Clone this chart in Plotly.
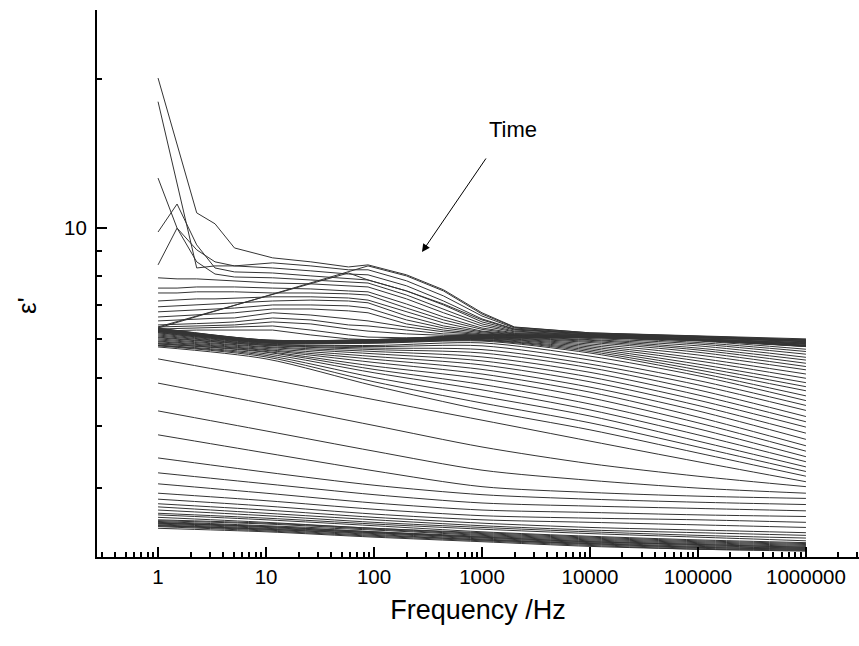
import math
import plotly.graph_objects as go

# ---------------------------------------------------------------------------
# Real permittivity eps' against frequency, one spectrum per measurement time
# ---------------------------------------------------------------------------

# Early spectra: electrode polarisation at low frequency plus a shoulder
FREQ_EARLY = [1, 1.5, 2.28, 3.37, 5.1, 11.5, 26, 58, 88, 200, 440, 1000, 2000,
              10000, 100000, 1000000]
EARLY_CURVES = [
    [20.06, 14.71, 10.74, 10.21, 9.13, 8.72, 8.56, 8.36, 8.44, 8.06, 7.52, 6.76, 6.33, 6.16, 6.07, 5.99],
    [17.98, 12.22, 8.32, 8.40, 8.40, 8.52, 8.40, 8.25, 8.25, 7.84, 7.31, 6.66, 6.30, 6.14, 6.06, 5.96],
    [12.62, 10.01, 9.05, 8.56, 8.40, 8.32, 8.21, 8.09, 8.06, 7.66, 7.14, 6.57, 6.27, 6.13, 6.04, 5.95],
    [9.83, 11.19, 9.26, 8.32, 8.17, 8.13, 8.02, 7.91, 7.87, 7.48, 7.01, 6.48, 6.24, 6.13, 6.03, 5.93],
    [8.44, 10.01, 8.56, 8.09, 7.98, 7.95, 7.87, 7.80, 7.76, 7.34, 6.88, 6.42, 6.21, 6.11, 6.02, 5.92],
    [7.95, 7.91, 7.91, 7.87, 7.84, 7.76, 7.73, 7.66, 7.62, 7.21, 6.76, 6.36, 6.19, 6.10, 6.02, 5.91],
    [7.58, 7.58, 7.62, 7.62, 7.62, 7.58, 7.55, 7.48, 7.45, 7.04, 6.63, 6.30, 6.16, 6.10, 6.00, 5.89],
    [7.41, 7.41, 7.45, 7.45, 7.45, 7.41, 7.41, 7.38, 7.34, 6.91, 6.54, 6.26, 6.14, 6.09, 5.99, 5.88],
    [7.14, 7.17, 7.21, 7.21, 7.24, 7.28, 7.28, 7.24, 7.17, 6.79, 6.45, 6.21, 6.13, 6.07, 5.99, 5.86],
    [6.95, 6.98, 7.01, 7.04, 7.08, 7.14, 7.17, 7.14, 7.08, 6.66, 6.36, 6.19, 6.11, 6.07, 5.97, 5.85],
    [6.79, 6.82, 6.85, 6.88, 6.91, 7.01, 7.01, 6.98, 6.91, 6.54, 6.30, 6.16, 6.10, 6.06, 5.97, 5.84],
    [6.63, 6.66, 6.69, 6.72, 6.76, 6.88, 6.88, 6.82, 6.76, 6.42, 6.24, 6.13, 6.09, 6.06, 5.96, 5.82],
    [6.51, 6.54, 6.57, 6.59, 6.60, 6.76, 6.69, 6.57, 6.51, 6.33, 6.19, 6.11, 6.09, 6.04, 5.96, 5.81],
    [6.39, 6.42, 6.43, 6.45, 6.48, 6.60, 6.54, 6.39, 6.36, 6.24, 6.13, 6.10, 6.07, 6.04, 5.95, 5.80],
    [6.33, 6.35, 6.36, 6.37, 6.39, 6.48, 6.42, 6.27, 6.21, 6.13, 6.09, 6.07, 6.07, 6.04, 5.95, 5.80],
    [6.27, 6.29, 6.30, 6.32, 6.33, 6.36, 6.24, 6.10, 6.04, 6.02, 6.02, 6.03, 6.04, 6.03, 5.95, 5.79],
    [6.21, 6.23, 6.24, 6.24, 6.24, 6.24, 6.10, 5.99, 5.97, 5.97, 5.99, 6.02, 6.03, 6.03, 5.95, 5.78],
]

# Two early spectra with missing points in the low-frequency part of the sweep
GAP_FREQ = [
    [1, 88, 200, 440, 1000, 2000, 10000, 100000, 1000000],
    [1, 58, 88, 200, 440, 1000, 2000, 10000, 100000, 1000000],
]
GAP_CURVES = [
    [6.30, 8.40, 8.02, 7.48, 6.72, 6.32, 6.16, 6.07, 5.97],
    [6.33, 8.13, 7.87, 7.48, 7.04, 6.54, 6.26, 6.13, 6.04, 5.95],
]

# Decade frequencies for the smooth spectra below
FREQ_DECADES = [1, 10, 100, 1000, 10000, 100000, 1000000]

# Spectra whose relaxation step moves into the window
MID_CURVES = [
    [6.30, 5.96, 5.97, 6.10, 6.06, 5.97, 5.78],
    [6.29, 5.96, 5.97, 6.09, 6.04, 5.93, 5.71],
    [6.28, 5.95, 5.96, 6.08, 6.03, 5.89, 5.65],
    [6.27, 5.94, 5.96, 6.07, 6.00, 5.85, 5.58],
    [6.26, 5.94, 5.95, 6.06, 5.97, 5.80, 5.50],
    [6.26, 5.93, 5.95, 6.04, 5.95, 5.74, 5.43],
    [6.24, 5.93, 5.94, 6.03, 5.92, 5.69, 5.35],
    [6.23, 5.92, 5.93, 6.02, 5.89, 5.63, 5.27],
    [6.23, 5.92, 5.92, 6.01, 5.85, 5.56, 5.19],
    [6.21, 5.91, 5.91, 6.00, 5.81, 5.48, 5.09],
    [6.20, 5.91, 5.91, 5.99, 5.77, 5.41, 4.99],
    [6.19, 5.90, 5.90, 5.97, 5.73, 5.33, 4.89],
    [6.17, 5.89, 5.89, 5.96, 5.69, 5.26, 4.80],
    [6.16, 5.88, 5.88, 5.95, 5.65, 5.19, 4.71],
    [6.13, 5.87, 5.87, 5.93, 5.61, 5.12, 4.60],
    [6.10, 5.85, 5.81, 5.88, 5.53, 5.05, 4.50],
    [6.07, 5.84, 5.78, 5.80, 5.43, 4.94, 4.40],
    [6.04, 5.82, 5.74, 5.70, 5.33, 4.84, 4.30],
    [6.02, 5.81, 5.70, 5.61, 5.24, 4.73, 4.18],
    [5.99, 5.78, 5.65, 5.51, 5.13, 4.62, 4.08],
    [5.96, 5.76, 5.59, 5.41, 5.02, 4.51, 3.98],
    [5.93, 5.73, 5.52, 5.31, 4.91, 4.40, 3.87],
    [5.91, 5.70, 5.45, 5.20, 4.79, 4.29, 3.76],
    [5.88, 5.68, 5.37, 5.09, 4.68, 4.17, 3.65],
    [5.86, 5.65, 5.28, 4.98, 4.56, 4.06, 3.56],
    [5.85, 5.63, 5.20, 4.85, 4.43, 3.95, 3.47],
    [5.82, 5.59, 5.12, 4.73, 4.31, 3.84, 3.39],
    [5.81, 5.55, 5.01, 4.59, 4.19, 3.73, 3.31],
    [5.80, 5.51, 4.91, 4.45, 4.06, 3.63, 3.24],
    [5.77, 5.46, 4.82, 4.31, 3.93, 3.53, 3.17],
]

# Late spectra, relaxation moving below the window
LATE_CURVES = [
    [5.46, 4.98, 4.52, 4.11, 3.73, 3.39, 3.09],
    [4.88, 4.43, 4.01, 3.63, 3.36, 3.17, 3.02],
    [4.29, 3.91, 3.56, 3.26, 3.11, 3.00, 2.93],
    [3.84, 3.53, 3.25, 3.02, 2.94, 2.89, 2.86],
    [3.45, 3.23, 3.04, 2.91, 2.85, 2.81, 2.78],
    [3.22, 3.06, 2.91, 2.80, 2.76, 2.73, 2.70],
    [3.06, 2.93, 2.80, 2.71, 2.68, 2.65, 2.63],
    [2.93, 2.83, 2.72, 2.64, 2.61, 2.59, 2.56],
    [2.85, 2.76, 2.66, 2.59, 2.56, 2.53, 2.50],
    [2.79, 2.71, 2.62, 2.55, 2.50, 2.47, 2.44],
    [2.75, 2.67, 2.59, 2.52, 2.47, 2.44, 2.41],
    [2.71, 2.64, 2.56, 2.50, 2.45, 2.41, 2.38],
    [2.67, 2.61, 2.54, 2.48, 2.43, 2.39, 2.35],
    [2.65, 2.59, 2.52, 2.45, 2.40, 2.36, 2.33],
    [2.62, 2.56, 2.49, 2.44, 2.39, 2.35, 2.32],
]

# Final spectra: fully unrelaxed, packed into a narrow band
FINAL_CURVES = [
    [2.59, 2.55, 2.49, 2.43, 2.38, 2.34, 2.31],
    [2.58, 2.54, 2.48, 2.42, 2.37, 2.33, 2.30],
    [2.57, 2.52, 2.47, 2.41, 2.36, 2.32, 2.29],
    [2.56, 2.51, 2.45, 2.40, 2.35, 2.31, 2.28],
    [2.55, 2.51, 2.45, 2.39, 2.34, 2.31, 2.28],
    [2.55, 2.50, 2.44, 2.39, 2.34, 2.30, 2.27],
    [2.54, 2.49, 2.44, 2.38, 2.33, 2.29, 2.27],
    [2.53, 2.48, 2.43, 2.37, 2.32, 2.28, 2.26],
    [2.52, 2.48, 2.42, 2.36, 2.32, 2.28, 2.26],
    [2.52, 2.47, 2.41, 2.36, 2.31, 2.27, 2.25],
    [2.51, 2.46, 2.40, 2.35, 2.30, 2.26, 2.25],
    [2.49, 2.45, 2.39, 2.34, 2.29, 2.26, 2.24],
]

# Axis ticks and limits
X_TICKS = [1, 10, 100, 1000, 10000, 100000, 1000000]
X_TICK_TEXT = ["1", "10", "100", "1000", "10000", "100000", "1000000"]
Y_TICKS = [10]
Y_TICK_TEXT = ["10"]
Y_MINOR_TICKS = [3, 4, 5, 6, 7, 8, 9, 20]
X_LIMITS = (0.272, 3.1e6)
Y_LIMITS = (2.18, 27.5)

LINE_COLOR = "#343434"
FONT = "Arial, Liberation Sans, Helvetica, sans-serif"

fig = go.Figure()


def add_curve(freq, eps, smooth):
    line = dict(color=LINE_COLOR, width=1)
    if smooth:
        line.update(shape="spline", smoothing=0.8)
    fig.add_trace(go.Scatter(x=freq, y=eps, mode="lines", line=line,
                             hoverinfo="skip", showlegend=False))


for row in EARLY_CURVES:
    add_curve(FREQ_EARLY, row, False)
for freq, row in zip(GAP_FREQ, GAP_CURVES):
    add_curve(freq, row, False)
for row in MID_CURVES + LATE_CURVES + FINAL_CURVES:
    add_curve(FREQ_DECADES, row, True)

x_minor = [m * 10 ** k for k in range(-1, 7) for m in range(2, 10)
           if X_LIMITS[0] <= m * 10 ** k <= X_LIMITS[1]]

axis_common = dict(
    type="log", showline=True, linecolor="black", linewidth=2, mirror=False,
    ticks="inside", ticklen=10, tickwidth=1.5, tickcolor="black",
    showgrid=False, zeroline=False,
    tickfont=dict(family=FONT, size=20.5, color="black"),
)
minor_common = dict(ticks="inside", ticklen=5, tickwidth=1.5, tickcolor="black",
                    showgrid=False)

fig.update_layout(
    width=859, height=646,
    margin=dict(l=97, r=0, t=10, b=89),
    paper_bgcolor="white", plot_bgcolor="white",
    xaxis=dict(
        axis_common,
        range=[math.log10(X_LIMITS[0]), math.log10(X_LIMITS[1])],
        tickvals=X_TICKS, ticktext=X_TICK_TEXT,
        minor=dict(minor_common, tickvals=x_minor),
        ticklabelstandoff=0,
        title=dict(text="Frequency /Hz", font=dict(family=FONT, size=27, color="black"),
                   standoff=14),
    ),
    yaxis=dict(
        axis_common,
        range=[math.log10(Y_LIMITS[0]), math.log10(Y_LIMITS[1])],
        tickvals=Y_TICKS, ticktext=Y_TICK_TEXT,
        minor=dict(minor_common, tickvals=Y_MINOR_TICKS),
        ticklabelstandoff=4,
    ),
    annotations=[
        # y-axis title
        dict(text="ε'", xref="paper", yref="paper", x=-0.092, y=0.4607,
             xanchor="center", yanchor="middle", textangle=-90, showarrow=False,
             font=dict(family=FONT, size=26, color="black")),
        dict(text="Time", xref="paper", yref="paper", x=0.546, y=0.7824,
             xanchor="center", yanchor="middle", showarrow=False,
             font=dict(family=FONT, size=22, color="black")),
        dict(text="", xref="paper", yref="paper", x=0.4265, y=0.5576,
             ax=65, ay=-95, axref="pixel", ayref="pixel",
             showarrow=True, arrowhead=2, arrowsize=1.6, arrowwidth=1,
             arrowcolor="black"),
    ],
)

fig.write_html("out.html")
